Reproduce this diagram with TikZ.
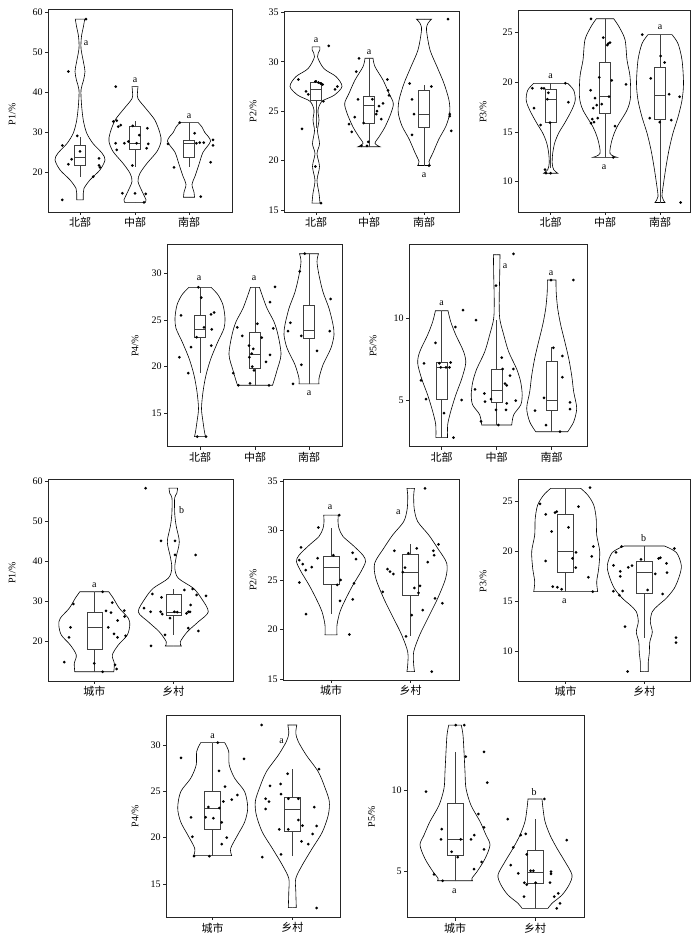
\documentclass[tikz,border=0pt]{standalone}
\usepackage{fontspec}
\setmainfont{Liberation Serif}
\newfontfamily\cjk{Noto Sans CJK SC}
\usepackage{tikz}

\newcommand{\boxhw}{5.7}
\newcommand{\violin}[4]{%
  \foreach \side in {1,-1}
    \draw[violin, xshift=#1pt, xscale=\side] (0,#2) -- plot[smooth] coordinates {#4} -- (0,#3);}
\newcommand{\boxplot}[6]{%
  \draw[box] ({#1-\boxhw},#3) rectangle ({#1+\boxhw},#5);
  \draw[box] ({#1-\boxhw},#4) -- ({#1+\boxhw},#4);
  \draw[box] (#1,#2) -- (#1,#3) (#1,#5) -- (#1,#6);}
\newcommand{\pts}[2]{\foreach \px/\py in {#2} \fill[dot] ({#1+\px},\py) circle (1.5pt);}

\begin{document}
\begin{tikzpicture}[x=1pt, y=1pt,
    frame/.style={line width=0.8pt, draw=black!85},
    violin/.style={line width=0.6pt, draw=black},
    box/.style={line width=0.5pt, draw=black!75},
    dot/.style={fill=black},
    tick/.style={font=\fontsize{10}{12}\selectfont, inner sep=2pt},
    cat/.style={font=\cjk\fontsize{11}{13}\selectfont, inner sep=2pt},
    sig/.style={font=\fontsize{10}{12}\selectfont, inner sep=1pt},
    ylab/.style={rotate=90, font=\fontsize{10}{12}\selectfont}]
  \useasboundingbox (0,0) rectangle (700,937);

  % P1
  \begin{scope}[yshift=684.7pt, y=4pt]
    \draw[frame] (48,10.07) rectangle (232,60.6);
    \foreach \tk in {20,30,...,60}
      \draw[frame] (48,\tk) -- ++(-3,0) node[left, tick] (ta\tk) {\tk};
    \foreach \cx/\cn [count=\ci] in {80/北部,135/中部,189/南部}
      \draw[frame] (\cx,10.07) -- ++(0,-3pt) node[below, cat] (ca\ci) {\cn};
    \node[ylab] (ya) at (12,34.5) {P1/\%};
    \violin{80}{13.1}{58.3}{(3.3,13.1) (3.3,14.8) (4,16) (10,18.1) (20,20.6) (25,23.1) (22,24.8) (13,27.2) (6.7,29.8) (3.3,33) (1.5,37) (1,40.6) (3.5,43) (5,45.2) (3.5,47.5) (1,51) (1.5,54) (3.5,56.5) (4.7,58.3)}
    \violin{135}{12.4}{41.4}{(10,12.4) (11,13.1) (8,14.75) (3,17.7) (5,19.75) (12,22.25) (22,25.2) (26,27.7) (25,29.75) (20,33) (12,35.6) (3,38.4) (2.5,40) (3,41.4)}
    \violin{189}{13.75}{32.4}{(5.5,13.75) (5,15) (3,17) (6,19) (10,22) (14,25) (21.5,27.8) (15.7,30) (13,31.3) (9.3,32.4)}
    \boxplot{80}{18.9}{21.7}{23.75}{26.7}{28.9}
    \boxplot{135}{21.4}{25.8}{27.25}{31.6}{32.9}
    \boxplot{189}{21.4}{23.75}{27.25}{28.1}{32.4}
    \pts{80}{-11.7/45.2, 6/58.3, -17.7/26.7, -11.7/22, -8.3/23.25, -2.7/29.1, 0/25.2, 19/23.5, 19/21.7, 20/21.2, 13.3/18.9, -17.7/13.1}
    \pts{135}{-19.3/41.4, -21.7/32.7, -18.3/32.9, -16.7/31.4, -14.3/31.8, -19.3/27.25, -18.3/25.6, -10.7/27.25, -6.7/27.7, -2.3/31.6, 1.7/27.25, 4.3/29.3, -2.7/21.7, -12.7/14.75, 0/14.75, 10.7/14.6, 9/12.5, 12.3/31, 11.7/26, 13.3/27.1}
    \pts{189}{-9.3/32.4, -21/27.1, -15/21.2, 5.7/29.75, 10.7/27.4, 14.7/27.4, 24/28.1, 24/26.7, 21.7/22.5, 11.7/13.9, 7.3/27.25}
    \node[sig] (sa1) at (86,52.25) {a};
    \node[sig] (sa2) at (135,43.1) {a};
    \node[sig] (sa3) at (189,34.1) {a};
  \end{scope}

  % P2
  \begin{scope}[yshift=578.7pt, y=9.885pt]
    \draw[frame] (284,14.8) rectangle (459,35.13);
    \foreach \tk in {15,20,...,35}
      \draw[frame] (284,\tk) -- ++(-3,0) node[left, tick] (tb\tk) {\tk};
    \foreach \cx/\cn [count=\ci] in {316/北部,369/中部,424/南部}
      \draw[frame] (\cx,14.8) -- ++(0,-3pt) node[below, cat] (cb\ci) {\cn};
    \node[ylab] (yb) at (253,25) {P2/\%};
    \violin{316}{15.7}{31.5}{(4,15.7) (3,16.7) (1,18) (3.5,19.4) (1,20.7) (3.5,21.7) (1.5,23) (3,24.1) (2,25.1) (6,26) (18,26.6) (26,27.5) (20,28.5) (8,29.3) (1.5,30.5) (3.8,31.2) (3.8,31.5)}
    \violin{369}{21.4}{30.35}{(11,21.4) (6,21.75) (10,22.4) (16,23.4) (22,24.8) (24.3,25.8) (20,26.8) (14,28.15) (6,29.5) (4,30.35)}
    \violin{424}{19.5}{34.3}{(6.3,19.5) (5,19.9) (9,20.8) (15,22.2) (22,23.5) (25.7,24.8) (25,26.1) (20,27.8) (13,29.5) (6,31.2) (2.5,33.2) (4,33.9) (7.5,34.3)}
    \boxplot{316}{23.3}{26.1}{27.2}{27.9}{28.15}
    \boxplot{369}{21.4}{23.8}{25.55}{26.5}{30.35}
    \boxplot{424}{19.5}{23.4}{24.7}{27.1}{27.65}
    \pts{316}{-17.7/28.2, -10/27, -7.7/26.7, -0.7/28, 2.3/27.9, 4.7/27.8, 6.7/27.7, 7.3/26, 12.7/31.6, 19/27.2, 21.3/27.5, -14/23.2, -0.7/19.4, 5/15.7}
    \pts{369}{-10/30.35, -12.7/29, -11/26.2, -14.3/24.4, -20/23.7, -17.3/22.9, -5.3/23.8, -7.7/21.5, -2/21.5, -0.7/21.9, 3.3/26.2, 8/25, 10/25.5, 14/25.8, 12.3/24.2, 18.3/28.2, 19/27.1, 20/26.6, 7.3/24.7}
    \pts{424}{-14.3/27.8, -12/26.2, -10/24.7, -12/22.6, 5/19.5, 7.3/27.5, 24/34.3, 25.7/24.7, 25.7/24.5, 27.3/23}
    \node[sig] (sb1) at (316,32.2) {a};
    \node[sig] (sb2) at (369,31.0) {a};
    \node[sig] (sb3) at (424,18.5) {a};
  \end{scope}

  % P3
  \begin{scope}[yshift=656pt, y=9.933pt]
    \draw[frame] (518,6.95) rectangle (690,27.28);
    \foreach \tk in {10,15,...,25}
      \draw[frame] (518,\tk) -- ++(-3,0) node[left, tick] (tc\tk) {\tk};
    \foreach \cx/\cn [count=\ci] in {550.7/北部,605/中部,660/南部}
      \draw[frame] (\cx,6.95) -- ++(0,-3pt) node[below, cat] (cc\ci) {\cn};
    \node[ylab] (yc) at (483,17) {P3/\%};
    \violin{550.7}{10.85}{19.9}{(7,10.85) (3,11.2) (1.5,11.85) (2,12.85) (4,13.9) (8,14.9) (14,15.9) (21,17.2) (24.5,18.2) (23,19.2) (17,19.9)}
    \violin{605}{12.45}{26.4}{(12,12.45) (5,12.85) (7,14.2) (12,15.5) (22,17.2) (25.5,18.5) (25,20.6) (22,22.25) (20,24.3) (14,25.6) (8.7,26.4)}
    \violin{660}{7.9}{24.8}{(5,7.9) (2,8.5) (3.5,9.8) (6,11.5) (9,13.2) (13,14.9) (18,16.5) (22,18.2) (23.5,19.9) (22,22.25) (18,23.9) (12,24.8)}
    \boxplot{550.7}{11.35}{15.95}{18.3}{19.3}{19.9}
    \boxplot{605}{12.45}{16.9}{18.55}{22.05}{26.4}
    \boxplot{660}{7.9}{16.3}{18.7}{21.5}{24.8}
    \pts{550.7}{-9/19.4, -6.7/19.4, -18.3/19.4, -16.7/17.4, -10/15.7, -3.3/18.3, -2.3/18.95, -0.7/15.95, -5.7/11.2, -4.7/10.85, 0/10.85, 14.7/19.9, 17.7/18}
    \pts{605}{-14/26.4, -1.7/24.5, 2.3/23.75, 3.3/23.9, 5/24, -5.7/20.5, -14.3/19.2, -10/18.4, -11.7/17.4, -8.3/17.7, -12.7/16.3, -11/16, -14/15.9, -7.3/16.4, -3.3/17.8, 4/18.55, 6.7/20.2, 21/19.8, 10/15.6, 8.3/12.45}
    \pts{660}{-17.7/24.8, -9.3/20.4, -10.3/16.4, 0.7/22.65, 4.7/22, -0.3/16, 9/18.8, 11.3/16.2, 19.7/18.55, 20.7/7.9}
    \node[sig] (sc1) at (550.7,20.6) {a};
    \node[sig] (sc2) at (604,11.5) {a};
    \node[sig] (sc3) at (660,25.6) {a};
  \end{scope}

  % P4
  \begin{scope}[yshift=383.7pt, y=9.333pt]
    \draw[frame] (167,11.42) rectangle (342,33.1);
    \foreach \tk in {15,20,...,30}
      \draw[frame] (167,\tk) -- ++(-3,0) node[left, tick] (td\tk) {\tk};
    \foreach \cx/\cn [count=\ci] in {200/北部,255/中部,309/南部}
      \draw[frame] (\cx,11.42) -- ++(0,-3pt) node[below, cat] (cd\ci) {\cn};
    \node[ylab] (yd) at (135,22.2) {P4/\%};
    \violin{200}{12.5}{28.5}{(5.5,12.5) (4.5,13) (3,14.1) (1.5,15.5) (3,17.3) (6,19.1) (11,20.9) (18,22.7) (24,24.1) (25,25.2) (23,26.6) (18,27.7) (11,28.5)}
    \violin{255}{18}{28.5}{(17.5,18) (19,18.5) (22,19.6) (26,21.3) (23,23.4) (19,24.8) (12,26.25) (7,27.7) (4.5,28.5)}
    \violin{309}{18.15}{32.1}{(10,18.15) (10,18.75) (14,20.2) (22,22) (25,23.4) (24,24.5) (20,26.25) (14,28) (10,29.8) (8,31.25) (9.5,32.1)}
    \boxplot{200}{19.3}{23.1}{24.05}{25.55}{28.5}
    \boxplot{255}{18}{19.8}{21.3}{23.7}{28.5}
    \boxplot{309}{18.15}{23.05}{23.9}{26.55}{32.1}
    \pts{200}{-19/25.5, -20.7/21, -11.7/19.3, -9/22.1, -3.3/23.15, -1.7/28.5, 1.3/27.4, 4/24.2, 11/25.6, 14/25.8, 11.7/24, 11.3/22.25, -2.7/12.5, 6/12.5}
    \pts{255}{-17.7/24.2, -12.7/23.3, -21.7/19.3, -16.7/18, -5/18.2, -6/22.25, -5.7/21, -3.3/21.4, -2.7/20, -1/19.6, -1.7/21.9, 2.3/24.6, 6.7/23.1, 11/20.5, 15/26.9, 18.3/24.1, 15/21.25, 20/28.55, 14/18}
    \pts{309}{-4.3/32.1, -9.3/30.2, -18.7/24.7, -21/23.8, -7.7/23.3, -7.7/20.2, -16/18.15, 8/21.7, 20.7/23.8, 21.7/27.25}
    \node[sig] (sd1) at (199,29.45) {a};
    \node[sig] (sd2) at (254,29.45) {a};
    \node[sig] (sd3) at (309,17.1) {a};
  \end{scope}

  % P5
  \begin{scope}[yshift=455.3pt, y=16.33pt]
    \draw[frame] (409,2.14) rectangle (587,14.54);
    \foreach \tk in {5,10}
      \draw[frame] (409,\tk) -- ++(-3,0) node[left, tick] (te\tk) {\tk};
    \foreach \cx/\cn [count=\ci] in {441.7/北部,496.7/中部,551.7/南部}
      \draw[frame] (\cx,2.14) -- ++(0,-3pt) node[below, cat] (ce\ci) {\cn};
    \node[ylab] (ye) at (373,8.3) {P5/\%};
    \violin{441.7}{2.7}{10.47}{(5.8,2.7) (6,3.5) (9,4.3) (14,5.3) (20,6.3) (24,7.25) (22,7.95) (14,9) (9,9.8) (6.3,10.47)}
    \violin{496.7}{3.47}{13.9}{(15,3.47) (17,4.1) (24,4.7) (25.5,5.3) (24,6.1) (20,6.9) (12,7.95) (7,9) (3,10) (2.5,11.2) (3,12.65) (3.3,13.9)}
    \violin{551.7}{3.06}{12.35}{(16,3.06) (22,3.67) (25,4.5) (22,5.5) (20,6.5) (17,7.55) (13,8.6) (9,9.6) (6,10.6) (4.5,11.6) (4.3,12.35)}
    \boxplot{441.7}{2.7}{5.06}{6.98}{7.3}{10.47}
    \boxplot{496.7}{3.47}{4.86}{5.6}{6.9}{9.9}
    \boxplot{551.7}{3.06}{4.35}{5}{7.4}{8.27}
    \pts{441.7}{-17.7/7.25, -20.7/6.2, -15.7/5.06, -6.3/8.5, -2.3/7.25, -1/7, 4.3/7, 7.7/7, 9/7.3, 2.3/4.2, 13.7/9.47, 20/5, 21.3/10.5, 11.7/2.7}
    \pts{496.7}{16.7/13.95, -0.7/12, -20.7/9.9, -21.7/5.65, -12.3/5.4, -11.7/4.9, -5.7/5.06, -0.7/4.4, 1.7/3.47, -15.7/3.7, 5/7.6, 6/6.9, 8.3/6, 10/5.9, 10/4.8, 9.3/4.4, 13.3/6.5, 16.7/6.9, 19/4.96}
    \pts{551.7}{-0.7/12.35, 21.7/12.35, 1.7/8.2, 10.7/7.7, 10.7/6.4, 18.3/4.85, 18.3/4.45, -7.7/5.14, -16.7/4.35, -5.7/3.47, 8.3/3.06}
    \node[sig] (se1) at (441.7,10.9) {a};
    \node[sig] (se2) at (505,13.2) {a};
    \node[sig] (se3) at (551,12.75) {a};
  \end{scope}

  % P6
  \begin{scope}[yshift=216pt, y=4pt]
    \renewcommand{\boxhw}{7.5}
    \draw[frame] (48,10) rectangle (233,60.5);
    \foreach \tk in {20,30,...,60}
      \draw[frame] (48,\tk) -- ++(-3,0) node[left, tick] (tf\tk) {\tk};
    \foreach \cx/\cn [count=\ci] in {94.3/城市,173.3/乡村}
      \draw[frame] (\cx,10) -- ++(0,-3pt) node[below, cat] (cf\ci) {\cn};
    \node[ylab] (yf) at (12,37) {P1/\%};
    \violin{94.3}{12.3}{32.3}{(19.5,12.3) (20,14.4) (18,16.5) (24,19) (33,21.5) (35.5,24) (34,25.7) (25,28.2) (19,30.7) (14.5,32.3)}
    \violin{173.3}{18.75}{58.2}{(8,18.75) (7,19.8) (14,22.3) (25,24.8) (35,27.3) (28,30.7) (20,33.2) (5,35.7) (1.5,38.2) (3,41.1) (6,44.8) (3,48.6) (1.5,51.5) (1.3,55.7) (3.5,56.9) (4.3,58.2)}
    \boxplot{94.3}{12.3}{18}{23.4}{27.2}{32.3}
    \boxplot{173.3}{21.5}{26.5}{27.3}{31.75}{32.9}
    \pts{94.3}{-21/29.25, -23.7/23.4, -25.3/20.9, -30/14.7, 0/14.4, 8.3/12.3, 8.3/32.3, 11.7/27.5, 16.7/27.1, 18/29.6, 30/27.6, 23.3/25.1, 30.3/26.1, 14/23.4, 19.7/21.75, 23.3/20.9, 31.3/21.3, 20.7/14, 22.3/13}
    \pts{173.3}{-27.7/58.2, -12.3/45, 1.7/45, 1.7/41.5, 22.3/41.5, -21/31.75, -29.3/28.2, -22.7/27.3, -12.7/27.3, -11/26.7, -11.7/30.9, -3.3/25.7, -8.3/21.5, -22.3/18.75, 1/27.3, 4/27.2, 11/32.75, 19.3/33, 23.3/31.5, 32.7/31.25, 17.3/29, 13.3/26.9, 15/27.3, 16.7/27.3, 15/23.2, 25/22.5}
    \node[sig] (sf1) at (94.3,34) {a};
    \node[sig] (sf2) at (181.7,52.75) {b};
  \end{scope}

  % P7
  \begin{scope}[yshift=109.5pt, y=9.9pt]
    \renewcommand{\boxhw}{8}
    \draw[frame] (283,14.9) rectangle (459,35.2);
    \foreach \tk in {15,20,...,35}
      \draw[frame] (283,\tk) -- ++(-3,0) node[left, tick] (tg\tk) {\tk};
    \foreach \cx/\cn [count=\ci] in {331/城市,410.7/乡村}
      \draw[frame] (\cx,14.9) -- ++(0,-3pt) node[below, cat] (cg\ci) {\cn};
    \node[ylab] (yg) at (253,25) {P2/\%};
    \violin{331}{19.45}{31.55}{(6,19.45) (6,20.45) (9,21.8) (15,23.15) (22,24.5) (30,25.85) (34.5,26.85) (32,27.5) (22,28.5) (12,29.4) (8,30.2) (7,30.9) (7.3,31.55)}
    \violin{410.7}{15.75}{34.26}{(3.8,15.75) (3,16.4) (3,17.75) (9,19.45) (17,21.1) (27,23.15) (35,25.2) (36,26.7) (27,28.2) (18,29.55) (7,30.9) (3.5,32.2) (3,33.6) (3.8,34.26)}
    \boxplot{331}{21.55}{24.6}{26.25}{27.35}{30.3}
    \boxplot{410.7}{19.35}{23.5}{25.8}{27.6}{28.6}
    \pts{331}{-12.7/30.3, -30/28.3, -31.7/27, -28.3/26.6, -25.3/26, -19.3/26.3, -13.3/27.2, -31.7/24.75, -25/21.55, 2.3/27.5, 6.3/24.5, 8.3/31.55, 9.7/25, 9/22.9, 21.7/27.75, 25/27.1, 23/24.65, 21.7/23.05, 18.3/19.5}
    \pts{410.7}{-28/23.8, -23.3/26.1, -20.7/25.85, -17.3/25.6, -16.3/27.95, -8/25.8, -5.7/26.25, -2.3/27.7, 1/21.45, -4.7/19.3, 3.7/24.2, 7.7/23.7, 9.3/24.4, 6/28.2, 12/21.95, 17/26.8, 22.7/27.95, 23.3/27.5, 27.7/28.6, 24.3/23.15, 31.7/22.65, 14.3/34.26, 21/15.75}
    \node[sig] (sg1) at (330,32.4) {a};
    \node[sig] (sg2) at (398.3,31.8) {a};
  \end{scope}

  % P8
  \begin{scope}[yshift=186.5pt, y=9.953pt]
    \renewcommand{\boxhw}{8}
    \draw[frame] (518,6.98) rectangle (690,27.28);
    \foreach \tk in {10,15,...,25}
      \draw[frame] (518,\tk) -- ++(-3,0) node[left, tick] (th\tk) {\tk};
    \foreach \cx/\cn [count=\ci] in {565.7/城市,644.3/乡村}
      \draw[frame] (\cx,6.98) -- ++(0,-3pt) node[below, cat] (ch\ci) {\cn};
    \node[ylab] (yh) at (483,17) {P3/\%};
    \violin{565.7}{15.96}{26.34}{(32,15.96) (31,16.96) (33,18.3) (34,20) (31,21.65) (30.5,23.3) (28,24.67) (22,25.67) (15,26.34)}
    \violin{644.3}{7.93}{20.55}{(4,7.93) (4,8.93) (5,9.77) (5.5,10.9) (8,11.9) (6,12.95) (8,13.95) (14,14.6) (22,15.3) (30,16.3) (35,17.5) (37,18.6) (32,19.9) (20,20.55)}
    \boxplot{565.7}{15.96}{17.87}{19.98}{23.73}{26.34}
    \boxplot{644.3}{11.34}{15.8}{17.87}{19}{20.55}
    \pts{565.7}{-25.7/24.77, -20/23.73, -10.7/23.9, -9/24, -14/22, -20/19.04, -13/16.46, -8.3/16.4, -4/16.2, 2.7/22.42, 10.3/19.9, 6.7/19.3, 10/18.37, 12.7/24.5, 24.3/26.4, 27.7/20.5, 26/19.5, 22.7/17.4, 27/15.96}
    \pts{644.3}{-22.7/20.5, -28.3/19.9, -30.7/18.6, -24/18, -24/17.5, -31/16, -25/15.6, -21.7/16.03, -16/18.4, -12.3/18.57, -3.3/19.2, 3.3/16.13, -19.3/12.45, -16.7/7.93, 11/17.74, 14.3/19.3, 16/19.37, 22.3/18.8, 22.7/17.87, 18.3/15.73, 30/20.3, 31.7/11.34, 31.7/10.84}
    \node[sig] (sh1) at (564.3,14.96) {a};
    \node[sig] (sh2) at (643.7,21.3) {b};
  \end{scope}

  % P9
  \begin{scope}[yshift=-86pt, y=9.267pt]
    \renewcommand{\boxhw}{8}
    \draw[frame] (166,11.4) rectangle (340,33.24);
    \foreach \tk in {15,20,...,30}
      \draw[frame] (166,\tk) -- ++(-3,0) node[left, tick] (ti\tk) {\tk};
    \foreach \cx/\cn [count=\ci] in {212.7/城市,292.3/乡村}
      \draw[frame] (\cx,11.4) -- ++(0,-3pt) node[below, cat] (ci\ci) {\cn};
    \node[ylab] (yi) at (135,22.3) {P4/\%};
    \violin{212.7}{18.06}{30.25}{(19,18.06) (18,18.85) (25,20.3) (32,21.7) (35,23.2) (32,24.95) (22,26.4) (16.5,27.85) (16,29.3) (12,30.25)}
    \violin{292.3}{12.45}{32.16}{(4,12.45) (3.5,14.2) (3.5,15.6) (10,17.05) (20,18.85) (30,20.6) (36,22.45) (37,23.9) (33,25.3) (26,27.1) (14,28.9) (6,30.36) (3.5,31.26) (4.5,32.16)}
    \boxplot{212.7}{18.06}{20.9}{23.16}{24.96}{30.25}
    \boxplot{292.3}{18}{20.65}{23.1}{24.4}{27.4}
    \pts{212.7}{-31.7/28.6, -20.3/20.1, -21.7/22.2, -18.7/18, -7/22.2, -4.3/23.3, -3.3/18, 0.7/22.1, 5/30.25, 6.3/27.2, 6.7/23.2, 9/21.65, 9/19.3, 10.7/23.9, 12.3/25.5, 14/20, 19/24.1, 24.7/24.6, 31.3/28.5}
    \pts{292.3}{-30.7/32.16, -22.3/25.6, -11.7/25.8, -11.3/24.7, -26.7/24.2, -23.3/23.9, -26.7/23.1, -4.7/26.9, -4/24.2, 6/24.2, -13/20.9, -4/20.9, 6/21.9, 10.3/21.3, 9.3/19.6, 16/19.3, 20.3/20.4, 22/23.3, 24.3/21.26, 26.7/27.4, -30/17.9, -11.3/18.2, 24.3/12.4}
    \node[sig] (si1) at (212.7,31) {a};
    \node[sig] (si2) at (281.7,30.36) {a};
  \end{scope}

  % P10
  \begin{scope}[yshift=-15.7pt, y=16.2pt]
    \renewcommand{\boxhw}{8}
    \draw[frame] (407,2.16) rectangle (584,14.63);
    \foreach \tk in {5,10}
      \draw[frame] (407,\tk) -- ++(-3,0) node[left, tick] (tj\tk) {\tk};
    \foreach \cx/\cn [count=\ci] in {455/城市,535/乡村}
      \draw[frame] (\cx,2.16) -- ++(0,-3pt) node[below, cat] (cj\ci) {\cn};
    \node[ylab] (yj) at (371.7,8.4) {P5/\%};
    \violin{455}{4.44}{14.05}{(17.5,4.44) (17,4.6) (22,5) (30,5.8) (35,6.65) (31,7.26) (25,8.1) (16,9.1) (11,10.14) (10,11.17) (9,12.4) (8,13.44) (6.3,14.05)}
    \violin{535}{2.74}{9.49}{(13,2.74) (17,3.05) (27,3.56) (34,4.18) (37,4.8) (30,5.62) (22,6.44) (15,7.26) (10,8.1) (8,8.9) (7,9.49)}
    \boxplot{455}{4.44}{6.03}{7}{9.2}{12.37}
    \boxplot{535}{2.74}{4.28}{4.96}{6.3}{8.25}
    \pts{455}{-29/9.94, -13.3/7.63, -14/7, -21/4.84, -12.3/4.44, -3.3/6.23, 2.7/5.9, 0.7/14.05, 9.3/14.05, 10.7/12.1, 5.7/7, 16/7, 19.3/7.26, 23.3/8.56, 29/7.74, 29/6.38, 26.7/5.6, 19/5.16, 29/12.4, 32.3/10.5}
    \pts{535}{-27.3/8.25, -21.7/6.5, -24.3/5.41, -16.7/4.9, -14.3/7.26, -9.3/7.33, -11/3.46, -10.7/4.32, -8.3/4.2, -8.3/6.07, -4.3/5.06, -1.7/5.06, 0.7/4.32, 9.3/9.49, 16/5, 16/4.86, 15/4.32, 19.3/3.46, 23.3/3.66, 25/3.05, 21.7/2.74, 31.7/6.95}
    \node[sig] (sj1) at (454.3,3.8) {a};
    \node[sig] (sj2) at (534,9.94) {b};
  \end{scope}
\end{tikzpicture}
\end{document}
